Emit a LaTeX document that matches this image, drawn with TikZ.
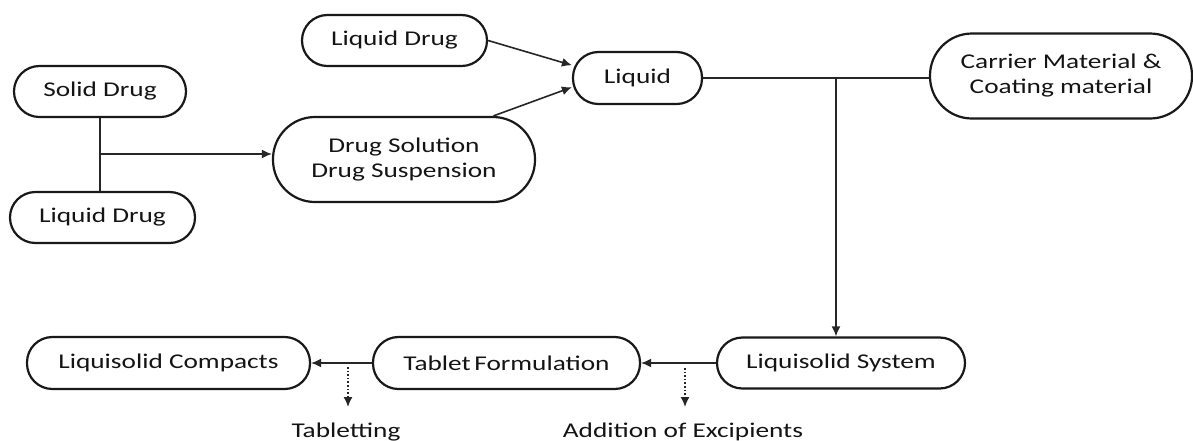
\documentclass[tikz,border=0pt]{standalone}
\usepackage{fontspec}
\setmainfont{Carlito}[FakeStretch=1.3]
\usetikzlibrary{arrows.meta}

\tikzset{
  pill/.style={draw=black!90,line width=1.1pt,rounded corners=12.7pt,minimum height=25.5pt,
    inner sep=0pt,align=center,text=black!92,font=\fontsize{10.5}{12.5}\selectfont},
  bigpill/.style={pill,rounded corners=21pt,minimum height=42.5pt},
  note/.style={text=black!92,font=\fontsize{10.5}{12.5}\selectfont},
  link/.style={draw=black!85,line width=0.8pt},
  flow/.style={link,-{Latex[length=5pt,width=4.5pt]}},
  dotflow/.style={draw=black!85,line width=0.8pt,densely dotted,-{Latex[length=5pt,width=4.5pt]}},
}

\begin{document}
\begin{tikzpicture}[x=0.5pt,y=-0.5pt]
\useasboundingbox (0,0) rectangle (1193,440);

% upper part
\node[pill,minimum width=86pt] (solid) at (100,91.5) {Solid Drug};
\node[pill,minimum width=92.5pt] (liqdrugA) at (102.5,217.5) {Liquid Drug};
\node[pill,minimum width=92.5pt] (liqdrugB) at (394.5,40.5) {Liquid Drug};
\node[bigpill,minimum width=131pt] (drugsol) at (404,159.5) {Drug Solution\\Drug Suspension};
\node[pill,minimum width=64.5pt,minimum height=26pt] (liquid) at (637.5,78) {Liquid};
\node[bigpill,minimum width=131pt] (carrier) at (1061,76) {Carrier Material \&\\Coating material};

% lower part
\node[pill,minimum width=124pt] (lsys) at (841,363) {Liquisolid System};
\node[pill,minimum width=133.5pt,minimum height=26pt] (tablet) at (506.5,363) {Tablet\,Formulation};
\node[pill,minimum width=141.5pt,minimum height=26pt] (compacts) at (168.5,363) {Liquisolid Compacts};

% connectors
\draw[link] (solid.south) -- (solid.south |- liqdrugA.north);
\coordinate (split) at (100,154);
\draw[flow] (split) -- (split -| drugsol.west);
\draw[flow] (liqdrugB.east) -- (liquid.169);
\draw[flow] (drugsol.26) -- (liquid.188);
\draw[link] (liquid.east) -- (liquid.east -| carrier.west);
\coordinate (fork) at (836,78);
\draw[flow] (fork) -- (fork |- lsys.north);
\draw[flow] (lsys.west) -- (tablet.east);
\draw[flow] (tablet.west) -- (compacts.east);

% steps
\coordinate (tabS) at (348,367);
\coordinate (tabE) at (348,407);
\draw[dotflow] (tabS) -- (tabE);
\node[note] (tabtxt) at (346,432) {Tabletting};
\coordinate (excS) at (685,368);
\coordinate (excE) at (685,407);
\draw[dotflow] (excS) -- (excE);
\node[note] (exctxt) at (683,432) {Addition of Excipients};

\end{tikzpicture}
\end{document}
